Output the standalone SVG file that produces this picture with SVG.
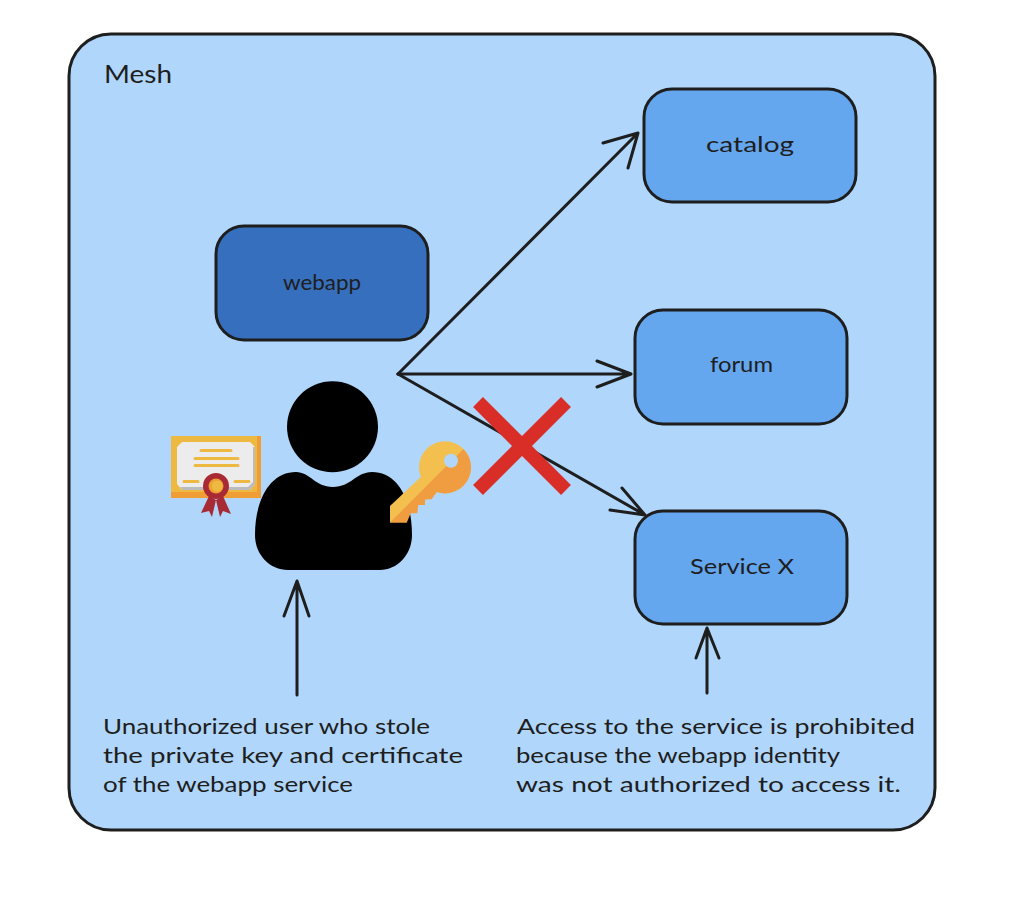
<svg xmlns="http://www.w3.org/2000/svg" width="1018" height="902" viewBox="0 0 1018 902">
<style>
.t{font-family:"Lato","Liberation Sans",sans-serif;fill:#1e1e1e;font-size:22px}
.box{stroke:#1e1e1e;stroke-width:3}
.c{fill:none;stroke:#1e1e1e;stroke-width:3;stroke-linecap:round;stroke-linejoin:round}
</style>
<rect width="1018" height="902" fill="#fff"/>
<g id="mesh">
<rect class="box" x="69" y="34" width="866" height="796" rx="42" fill="#b0d7fb"/>
<text class="t" x="104" y="83" textLength="68" lengthAdjust="spacingAndGlyphs" style="font-size:25px">Mesh</text>
</g>
<g id="catalog">
<rect class="box" x="644" y="89" width="212" height="113" rx="28" fill="#64a7ef"/>
<text class="t" x="706" y="152" textLength="88" lengthAdjust="spacingAndGlyphs">catalog</text>
</g>
<g id="webapp">
<rect class="box" x="216" y="226" width="212" height="114" rx="28" fill="#366fbd"/>
<text class="t" x="283" y="290" textLength="78" lengthAdjust="spacingAndGlyphs">webapp</text>
</g>
<g id="forum">
<rect class="box" x="635" y="310" width="212" height="114" rx="28" fill="#64a7ef"/>
<text class="t" x="710" y="372" textLength="63" lengthAdjust="spacingAndGlyphs">forum</text>
</g>
<g id="service-x">
<rect class="box" x="635" y="511" width="212" height="113" rx="28" fill="#64a7ef"/>
<text class="t" x="690" y="574" textLength="104" lengthAdjust="spacingAndGlyphs">Service X</text>
</g>
<g id="connectors">
<path class="c" d="M398 374 638 133M603 143 638 133 628 168"/>
<path class="c" d="M398 374 631 374M597 361 631 374 597 387"/>
<path class="c" d="M398 374 645 515M610 510 645 515 622 488"/>
<path class="c" d="M297 695 297 581M284 616 297 581 309 616"/>
<path class="c" d="M707 693 707 628M696 658 707 628 719 658"/>
</g>
<g id="cross">
<path d="M478 402 566 490M566 402 478 490" fill="none" stroke="#d92e27" stroke-width="14"/>
</g>
<g id="user">
<circle cx="332.500" cy="426.800" r="45.500" fill="#000"/>
<path d="M255 535C255 500 270 472 296 472C310 472 315 487 333 487C351 487 356 472 372 472C398 472 412 500 412 535C412 555 397 570 380 570L288 570C270 570 255 555 255 535Z" fill="#000"/>
</g>
<g id="key">
<circle cx="445" cy="467.300" r="26" fill="#f3bf4e"/>
<path d="M390 506 421 476.700 436.700 493.300 390 522.700Z" fill="#f3bf4e"/>
<path d="M390 522.700 463.400 449 A26 26 0 0 1 436.700 492 L431.700 499.300 425 499.300 425 505 418.300 505 417.300 513.300 410.700 513.300 406.700 522.700Z" fill="#f09d42"/>
<circle cx="451" cy="460.700" r="7" fill="#b0d7fb"/>
</g>
<g id="certificate">
<rect x="171" y="436" width="90" height="62" fill="#eeb940"/>
<rect x="171" y="492" width="90" height="6" fill="#f09d36"/>
<rect x="257" y="436" width="4" height="62" fill="#f09d36"/>
<path d="M182 442H250L255 447V484L250 490H182L177 484V447Z" fill="#ececec"/>
<path d="M255 447V484L250 490H182L180 487H248L253 482V447Z" fill="#bcbcbc"/>
<path d="M201 450.500H231M195 458.500H238M195 465.500H238M184 481.500H198M235 481.500H249" stroke="#eeb940" stroke-width="3" stroke-linecap="round"/>
<path d="M209 496 201 513 209 511 212 517 216 500ZM223 496 231 514 223 511 220 517 216 500Z" fill="#a82a35"/>
<circle cx="216" cy="486" r="13" fill="#a82a35"/>
<circle cx="216" cy="486" r="7.500" fill="#f09d36"/>
<circle cx="217" cy="486" r="5.500" fill="#eeb940"/>
</g>
<g id="labels">
<text class="t" x="103" y="734" textLength="327" lengthAdjust="spacingAndGlyphs">Unauthorized user who stole</text>
<text class="t" x="103" y="763" textLength="360" lengthAdjust="spacingAndGlyphs">the private key and certificate</text>
<text class="t" x="103" y="792" textLength="250" lengthAdjust="spacingAndGlyphs">of the webapp service</text>
<text class="t" x="517" y="734" textLength="398" lengthAdjust="spacingAndGlyphs">Access to the service is prohibited</text>
<text class="t" x="516" y="763" textLength="324" lengthAdjust="spacingAndGlyphs">because the webapp identity</text>
<text class="t" x="516" y="792" textLength="385" lengthAdjust="spacingAndGlyphs">was not authorized to access it.</text>
</g>
</svg>
